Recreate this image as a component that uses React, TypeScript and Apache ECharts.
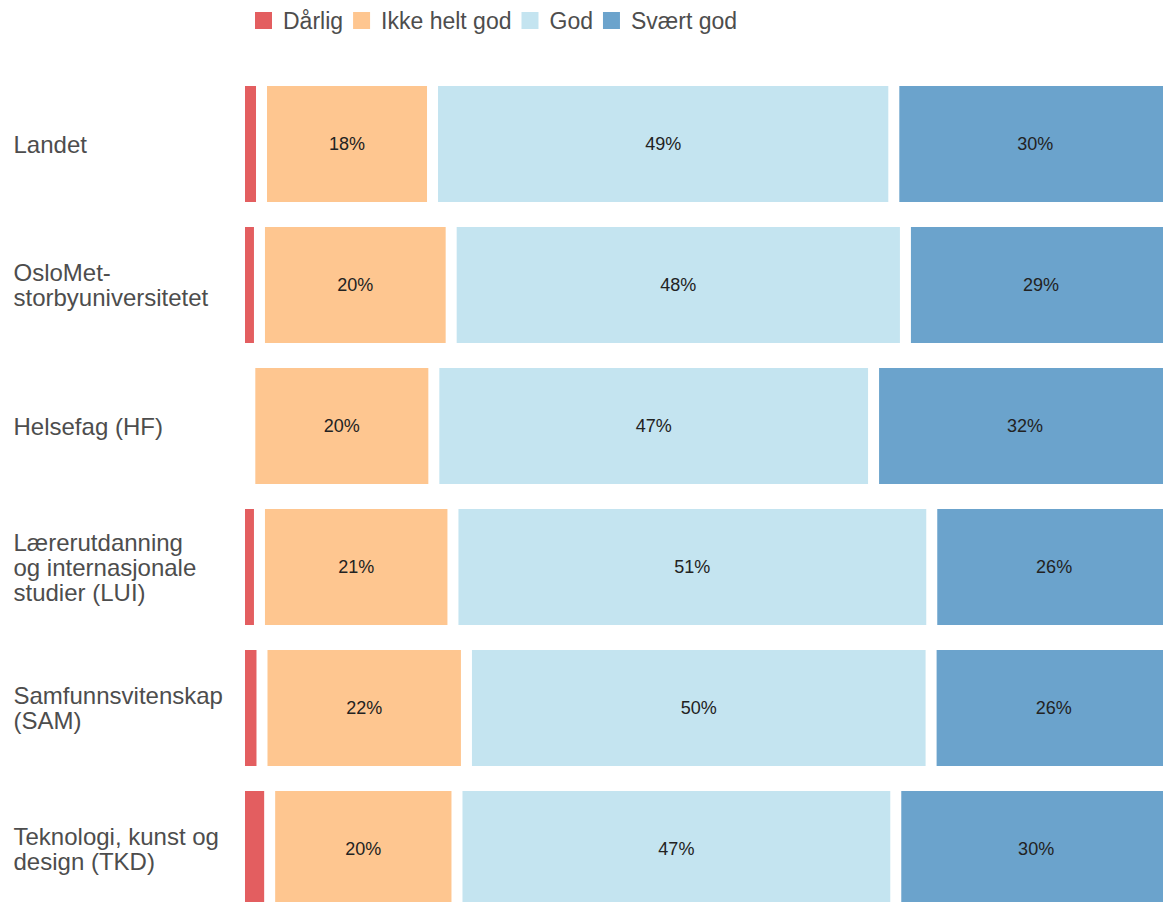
import React, { useEffect, useRef } from "react";
import * as echarts from "echarts";

const categories = [
  "Landet",
  "OsloMet-\nstorbyuniversitetet",
  "Helsefag (HF)",
  "Lærerutdanning\nog internasjonale\nstudier (LUI)",
  "Samfunnsvitenskap\n(SAM)",
  "Teknologi, kunst og\ndesign (TKD)",
];

const seriesNames = ["Dårlig", "Ikke helt god", "God", "Svært god"];
const darlig = [2.35, 2.13, 1.1, 2.13, 2.4, 3.22];
const ikkeHeltGod = [18.25, 20.46, 19.64, 20.65, 21.82, 19.99];
const god = [49.23, 48.48, 46.93, 51.1, 49.59, 46.83];
const svaertGod = [30.17, 28.93, 32.33, 26.12, 26.19, 29.96];
const colors = ["#E35E60", "#FEC690", "#C4E4F0", "#6BA3CC"];

const FONT = "'Liberation Sans', Arial, sans-serif";

export default function App() {
  const ref = useRef<HTMLDivElement>(null);
  useEffect(() => {
    if (!ref.current) return;
    const chart = echarts.init(ref.current, undefined, { renderer: "svg" });
    const values = [darlig, ikkeHeltGod, god, svaertGod];
    chart.setOption({
      animation: false,
      textStyle: { fontFamily: FONT },
      legend: {
        left: 250,
        top: 4,
        itemWidth: 17,
        itemHeight: 17,
        itemGap: 10,
        icon: "rect",
        itemStyle: { borderWidth: 0 },
        textStyle: {
          fontSize: 23,
          color: "#4D4D4D",
          fontFamily: FONT,
          padding: [0, 0, 0, 6],
        },
        data: seriesNames,
      },
      grid: { left: 239.5, top: 73.5, width: 937, height: 846 },
      xAxis: { type: "value", min: 0, max: 100, show: false },
      yAxis: {
        type: "category",
        inverse: true,
        data: categories,
        axisLine: { show: false },
        axisTick: { show: false },
        splitLine: { show: false },
        axisLabel: {
          align: "left",
          margin: 226,
          fontSize: 24,
          lineHeight: 25,
          color: "#4D4D4D",
          fontFamily: FONT,
        },
      },
      series: seriesNames.map((name, i) => ({
        name,
        type: "bar",
        stack: "total",
        barWidth: 127,
        data: values[i],
        itemStyle: { color: colors[i], borderColor: "#ffffff", borderWidth: 5.5 },
        label: {
          show: i > 0,
          position: "inside",
          fontSize: 18,
          color: "#222222",
          fontFamily: FONT,
          formatter: (p: any) => Math.round(p.value) + "%",
        },
        emphasis: { disabled: true },
      })),
    });
    return () => chart.dispose();
  }, []);
  return (
    <div
      ref={ref}
      style={{ position: "fixed", left: 0, top: 0, width: 1185, height: 930, background: "#fff" }}
    />
  );
}
